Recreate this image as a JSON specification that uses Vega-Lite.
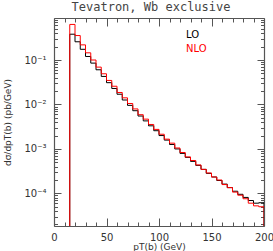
{
  "$schema": "https://vega.github.io/schema/vega-lite/v6.json",
  "width": 210,
  "height": 208,
  "autosize": "none",
  "padding": {"left": 54, "top": 18, "right": 9, "bottom": 25},
  "background": "white",
  "config": {
    "view": {"stroke": null},
    "font": "DejaVu Sans",
    "axis": {"domainColor": "#555555", "tickColor": "#555555", "labelColor": "#333333", "titleColor": "#333333", "grid": false, "labelFont": "DejaVu Sans", "titleFont": "DejaVu Sans", "titleFontWeight": "normal", "domainWidth": 1.2, "tickWidth": 1}
  },
  "title": {"text": "Tevatron, Wb exclusive", "font": "DejaVu Sans Mono", "fontSize": 12, "fontWeight": "normal", "color": "#444444", "offset": 4, "dx": -8},
  "data": {"values": [
    {"s": "LO", "k": 0, "pt": 15, "v": 0.000001},
    {"s": "LO", "k": 1, "pt": 15, "v": 0.380},
    {"s": "LO", "k": 2, "pt": 20, "v": 0.257},
    {"s": "LO", "k": 3, "pt": 25, "v": 0.174},
    {"s": "LO", "k": 4, "pt": 30, "v": 0.120},
    {"s": "LO", "k": 5, "pt": 35, "v": 0.0851},
    {"s": "LO", "k": 6, "pt": 40, "v": 0.0603},
    {"s": "LO", "k": 7, "pt": 45, "v": 0.0427},
    {"s": "LO", "k": 8, "pt": 50, "v": 0.0309},
    {"s": "LO", "k": 9, "pt": 55, "v": 0.0229},
    {"s": "LO", "k": 10, "pt": 60, "v": 0.0170},
    {"s": "LO", "k": 11, "pt": 65, "v": 0.0126},
    {"s": "LO", "k": 12, "pt": 70, "v": 0.00955},
    {"s": "LO", "k": 13, "pt": 75, "v": 0.00724},
    {"s": "LO", "k": 14, "pt": 80, "v": 0.00550},
    {"s": "LO", "k": 15, "pt": 85, "v": 0.00427},
    {"s": "LO", "k": 16, "pt": 90, "v": 0.00331},
    {"s": "LO", "k": 17, "pt": 95, "v": 0.00257},
    {"s": "LO", "k": 18, "pt": 100, "v": 0.00200},
    {"s": "LO", "k": 19, "pt": 105, "v": 0.00158},
    {"s": "LO", "k": 20, "pt": 110, "v": 0.00126},
    {"s": "LO", "k": 21, "pt": 115, "v": 0.00100},
    {"s": "LO", "k": 22, "pt": 120, "v": 0.000794},
    {"s": "LO", "k": 23, "pt": 125, "v": 0.000646},
    {"s": "LO", "k": 24, "pt": 130, "v": 0.000525},
    {"s": "LO", "k": 25, "pt": 135, "v": 0.000427},
    {"s": "LO", "k": 26, "pt": 140, "v": 0.000347},
    {"s": "LO", "k": 27, "pt": 145, "v": 0.000282},
    {"s": "LO", "k": 28, "pt": 150, "v": 0.000234},
    {"s": "LO", "k": 29, "pt": 155, "v": 0.000195},
    {"s": "LO", "k": 30, "pt": 160, "v": 0.000162},
    {"s": "LO", "k": 31, "pt": 165, "v": 0.000135},
    {"s": "LO", "k": 32, "pt": 170, "v": 0.000112},
    {"s": "LO", "k": 33, "pt": 175, "v": 0.0000955},
    {"s": "LO", "k": 34, "pt": 180, "v": 0.0000813},
    {"s": "LO", "k": 35, "pt": 185, "v": 0.0000692},
    {"s": "LO", "k": 36, "pt": 190, "v": 0.0000603},
    {"s": "LO", "k": 37, "pt": 195, "v": 0.0000617},
    {"s": "LO", "k": 38, "pt": 200, "v": 0.0000617},
    {"s": "LO", "k": 39, "pt": 200, "v": 0.000001},
    {"s": "NLO", "k": 0, "pt": 15, "v": 0.000001},
    {"s": "NLO", "k": 1, "pt": 15, "v": 0.631},
    {"s": "NLO", "k": 2, "pt": 20, "v": 0.355},
    {"s": "NLO", "k": 3, "pt": 25, "v": 0.219},
    {"s": "NLO", "k": 4, "pt": 30, "v": 0.145},
    {"s": "NLO", "k": 5, "pt": 35, "v": 0.100},
    {"s": "NLO", "k": 6, "pt": 40, "v": 0.0692},
    {"s": "NLO", "k": 7, "pt": 45, "v": 0.0490},
    {"s": "NLO", "k": 8, "pt": 50, "v": 0.0347},
    {"s": "NLO", "k": 9, "pt": 55, "v": 0.0257},
    {"s": "NLO", "k": 10, "pt": 60, "v": 0.0186},
    {"s": "NLO", "k": 11, "pt": 65, "v": 0.0141},
    {"s": "NLO", "k": 12, "pt": 70, "v": 0.0105},
    {"s": "NLO", "k": 13, "pt": 75, "v": 0.00794},
    {"s": "NLO", "k": 14, "pt": 80, "v": 0.00589},
    {"s": "NLO", "k": 15, "pt": 85, "v": 0.00468},
    {"s": "NLO", "k": 16, "pt": 90, "v": 0.00355},
    {"s": "NLO", "k": 17, "pt": 95, "v": 0.00275},
    {"s": "NLO", "k": 18, "pt": 100, "v": 0.00214},
    {"s": "NLO", "k": 19, "pt": 105, "v": 0.00166},
    {"s": "NLO", "k": 20, "pt": 110, "v": 0.00135},
    {"s": "NLO", "k": 21, "pt": 115, "v": 0.00105},
    {"s": "NLO", "k": 22, "pt": 120, "v": 0.000832},
    {"s": "NLO", "k": 23, "pt": 125, "v": 0.000661},
    {"s": "NLO", "k": 24, "pt": 130, "v": 0.000550},
    {"s": "NLO", "k": 25, "pt": 135, "v": 0.000437},
    {"s": "NLO", "k": 26, "pt": 140, "v": 0.000347},
    {"s": "NLO", "k": 27, "pt": 145, "v": 0.000288},
    {"s": "NLO", "k": 28, "pt": 150, "v": 0.000234},
    {"s": "NLO", "k": 29, "pt": 155, "v": 0.000200},
    {"s": "NLO", "k": 30, "pt": 160, "v": 0.000158},
    {"s": "NLO", "k": 31, "pt": 165, "v": 0.000135},
    {"s": "NLO", "k": 32, "pt": 170, "v": 0.000107},
    {"s": "NLO", "k": 33, "pt": 175, "v": 0.0000912},
    {"s": "NLO", "k": 34, "pt": 180, "v": 0.0000759},
    {"s": "NLO", "k": 35, "pt": 185, "v": 0.0000603},
    {"s": "NLO", "k": 36, "pt": 190, "v": 0.0000525},
    {"s": "NLO", "k": 37, "pt": 195, "v": 0.0000501},
    {"s": "NLO", "k": 38, "pt": 200, "v": 0.0000501},
    {"s": "NLO", "k": 39, "pt": 200, "v": 0.000001}
  ]},
  "layer": [
    {
      "mark": {"type": "line", "interpolate": "step-after", "clip": true, "strokeWidth": 1},
      "encoding": {
        "x": {"field": "pt", "type": "quantitative", "scale": {"domain": [0, 200], "nice": false, "zero": false},
          "axis": {"orient": "bottom", "title": "pT(b) (GeV)", "titleFontSize": 9, "titleY": 20, "titleBaseline": "middle",
            "values": [0,10,20,30,40,50,60,70,80,90,100,110,120,130,140,150,160,170,180,190,200],
            "tickSize": {"condition": {"test": "datum.value % 50 == 0", "value": -8}, "value": -4},
            "labelExpr": "datum.value % 50 == 0 ? datum.label : ''",
            "labelFontSize": 10, "labelPadding": 14, "labelFlush": false}},
        "y": {"field": "v", "type": "quantitative", "scale": {"type": "log", "domain": [0.0000185, 0.88], "nice": false},
          "axis": {"orient": "left", "title": "dσ/dpT(b) (pb/GeV)", "titleFontSize": 9, "titleX": -47, "titleY": 104, "titleAngle": -90, "titleBaseline": "middle", "titleAlign": "center",
            "values": [0.00002,0.00003,0.00004,0.00005,0.00006,0.00007,0.00008,0.00009,0.0001,0.0002,0.0003,0.0004,0.0005,0.0006,0.0007,0.0008,0.0009,0.001,0.002,0.003,0.004,0.005,0.006,0.007,0.008,0.009,0.01,0.02,0.03,0.04,0.05,0.06,0.07,0.08,0.09,0.1,0.2,0.3,0.4,0.5,0.6,0.7,0.8],
            "tickSize": {"condition": {"test": "abs(log(datum.value)/LN10 - round(log(datum.value)/LN10)) < 0.001", "value": -7}, "value": -3.5},
            "labelExpr": "abs(log(datum.value)/LN10 - round(log(datum.value)/LN10)) > 0.001 ? '' : (round(log(datum.value)/LN10) == -1 ? '10⁻¹' : round(log(datum.value)/LN10) == -2 ? '10⁻²' : round(log(datum.value)/LN10) == -3 ? '10⁻³' : '10⁻⁴')",
            "labelFontSize": 10, "labelPadding": 15, "labelFlush": false}},
        "color": {"field": "s", "type": "nominal", "scale": {"domain": ["LO", "NLO"], "range": ["#000000", "#ff0000"]},
          "legend": {"title": null, "orient": "none", "legendX": 122, "legendY": 12, "symbolSize": 0, "symbolStrokeWidth": 0, "symbolOpacity": 0, "labelOffset": 0, "labelFontSize": 10, "labelFont": "DejaVu Sans", "rowPadding": 4,
            "labelColor": {"expr": "datum.value == 'NLO' ? '#ff0000' : '#000000'"}}},
        "order": {"field": "k", "type": "quantitative"}
      }
    },
    {
      "mark": {"type": "line", "opacity": 0, "clip": true},
      "encoding": {
        "x": {"field": "pt", "type": "quantitative", "scale": {"domain": [0, 200], "nice": false, "zero": false},
          "axis": {"orient": "top", "title": null, "labels": false,
            "values": [0,10,20,30,40,50,60,70,80,90,100,110,120,130,140,150,160,170,180,190,200],
            "tickSize": {"condition": {"test": "datum.value % 50 == 0", "value": -8}, "value": -4}}},
        "y": {"field": "v", "type": "quantitative", "scale": {"type": "log", "domain": [0.0000185, 0.88], "nice": false},
          "axis": {"orient": "right", "title": null, "labels": false,
            "values": [0.00002,0.00003,0.00004,0.00005,0.00006,0.00007,0.00008,0.00009,0.0001,0.0002,0.0003,0.0004,0.0005,0.0006,0.0007,0.0008,0.0009,0.001,0.002,0.003,0.004,0.005,0.006,0.007,0.008,0.009,0.01,0.02,0.03,0.04,0.05,0.06,0.07,0.08,0.09,0.1,0.2,0.3,0.4,0.5,0.6,0.7,0.8],
            "tickSize": {"condition": {"test": "abs(log(datum.value)/LN10 - round(log(datum.value)/LN10)) < 0.001", "value": -7}, "value": -3.5}}},
        "detail": {"field": "s"},
        "order": {"field": "k", "type": "quantitative"}
      }
    }
  ],
  "resolve": {"axis": {"x": "independent", "y": "independent"}}
}
